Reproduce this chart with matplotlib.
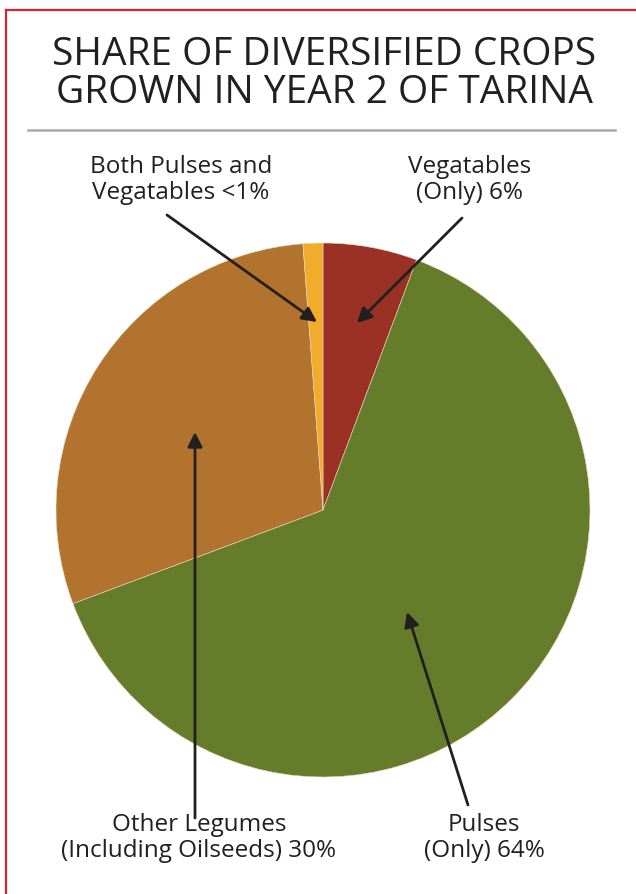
import matplotlib.pyplot as plt
from matplotlib.lines import Line2D

# slice data, clockwise from 12 o'clock
labels = ['Vegatables\n(Only) 6%', 'Pulses\n(Only) 64%',
          'Other Legumes\n(Including Oilseeds) 30%', 'Both Pulses and\nVegatables <1%']
shares = [5.7, 63.6, 29.5, 1.2]
colors = ['#9a3124', '#657d2b', '#b1732e', '#f0ac2a']

W, H = 636, 894
fig = plt.figure(figsize=(W / 100, H / 100), dpi=100)
ax = fig.add_axes([0, 0, 1, 1])

def py(y):  # pixel row -> data y
    return H - y

cx, cy, r = 323, 510, 267
ax.pie(shares, colors=colors, startangle=90, counterclock=False,
       center=(cx, py(cy)), radius=r, frame=True,
       wedgeprops=dict(edgecolor='#e8d8c0', linewidth=0.4))
ax.set_xlim(0, W)
ax.set_ylim(0, H)
ax.set_aspect('equal')
ax.axis('off')

font = 'Open Sans'
ax.text(324, py(74), 'SHARE OF DIVERSIFIED CROPS\nGROWN IN YEAR 2 OF TARINA',
        ha='center', va='center', fontsize=28, family=font, color='#231f20',
        fontweight='medium', linespacing=0.98)

# gray rule under title, red frame lines
fig.add_artist(Line2D([28 / W, 615 / W], [1 - 130 / H, 1 - 130 / H],
                      color='#a7a9ac', lw=1.8))
fig.add_artist(Line2D([6 / W, 6 / W], [0, 1 - 10 / H], color='#d7242f', lw=1.6))
fig.add_artist(Line2D([6 / W, 1], [1 - 10 / H, 1 - 10 / H], color='#d7242f', lw=1.6))

# label positions and arrow endpoints (pixel coords)
label_xy = [(470, 180), (484, 838), (199, 838), (181, 180)]
arrow_from = [(462, 218), (468, 805), (195, 818), (167, 215)]
arrow_to = [(357, 323), (407, 612), (195, 432), (317, 322)]

for lab, (tx, ty), (x0, y0), (x1, y1) in zip(labels, label_xy, arrow_from, arrow_to):
    ax.text(tx, py(ty), lab, ha='center', va='center', fontsize=17.5,
            family=font, color='#231f20', fontweight='medium', linespacing=1.08)
    ax.annotate('', xy=(x1, py(y1)), xytext=(x0, py(y0)),
                arrowprops=dict(arrowstyle='-|>', color='#231f20', lw=2,
                                mutation_scale=22, shrinkA=0, shrinkB=0))

fig.savefig('out.png', dpi=100)
